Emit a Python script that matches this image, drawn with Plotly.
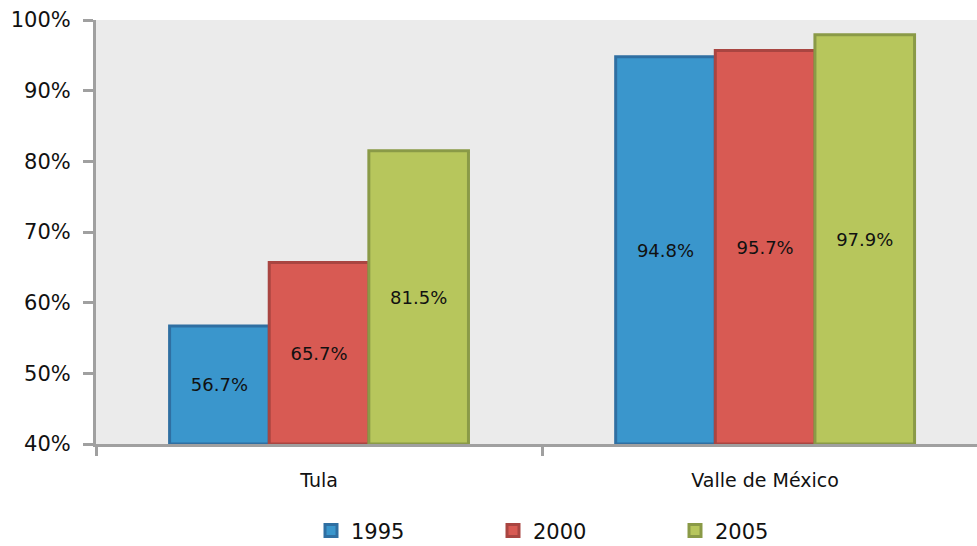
import plotly.graph_objects as go

regions = ["Tula", "Valle de México"]
years = ["1995", "2000", "2005"]
values = {
    "1995": [56.7, 94.8],
    "2000": [65.7, 95.7],
    "2005": [81.5, 97.9],
}
fill_colors = {"1995": "#3a96cc", "2000": "#d85a53", "2005": "#b7c65c"}
edge_colors = {"1995": "#2f6fa2", "2000": "#a94541", "2005": "#8a9a47"}
y_ticks = [40, 50, 60, 70, 80, 90, 100]
axis_floor = 40

font_family = "DejaVu Sans"

fig = go.Figure()
for yr in years:
    # bars start at the axis floor so the labels sit in the middle of the visible part
    fig.add_trace(go.Bar(
        name=yr,
        x=regions,
        y=[v - axis_floor for v in values[yr]],
        base=axis_floor,
        marker=dict(color=fill_colors[yr], line=dict(color=edge_colors[yr], width=3)),
        text=[f"{v:.1f}%" for v in values[yr]],
        textposition="inside",
        insidetextanchor="middle",
        textangle=0,
        textfont=dict(family=font_family, size=18, color="#111111"),
        hovertext=[f"{v:.1f}%" for v in values[yr]],
        hoverinfo="text+name",
    ))

fig.update_layout(
    width=977,
    height=546,
    margin=dict(l=96, r=0, t=20, b=102, autoexpand=False),
    paper_bgcolor="white",
    plot_bgcolor="#ebebeb",
    barmode="group",
    bargap=0.33,
    bargroupgap=0,
    font=dict(family=font_family, color="#111111"),
    showlegend=True,
    legend=dict(
        orientation="h",
        x=(311 - 96) / 881,
        xanchor="left",
        y=-0.205,
        yanchor="middle",
        font=dict(size=21, family=font_family),
        entrywidth=137,
        entrywidthmode="pixels",
        bgcolor="rgba(0,0,0,0)",
        itemwidth=30,
    ),
    xaxis=dict(
        type="category",
        range=[-0.5, 1.475],
        tickson="boundaries",
        ticks="outside",
        ticklen=9,
        tickwidth=3,
        tickcolor="#a0a0a0",
        showline=True,
        linecolor="#a0a0a0",
        linewidth=3,
        showgrid=False,
        automargin=False,
        tickfont=dict(size=19, family=font_family),
        ticklabelstandoff=17,
    ),
    yaxis=dict(
        range=[40, 100],
        tickvals=y_ticks,
        ticktext=[f"{t}%" for t in y_ticks],
        ticks="outside",
        ticklen=10,
        tickwidth=3,
        tickcolor="#a0a0a0",
        showline=True,
        linecolor="#a0a0a0",
        linewidth=3,
        showgrid=False,
        zeroline=False,
        automargin=False,
        tickfont=dict(size=21, family=font_family),
        ticklabelstandoff=8,
    ),
)

fig.write_html("out.html")
